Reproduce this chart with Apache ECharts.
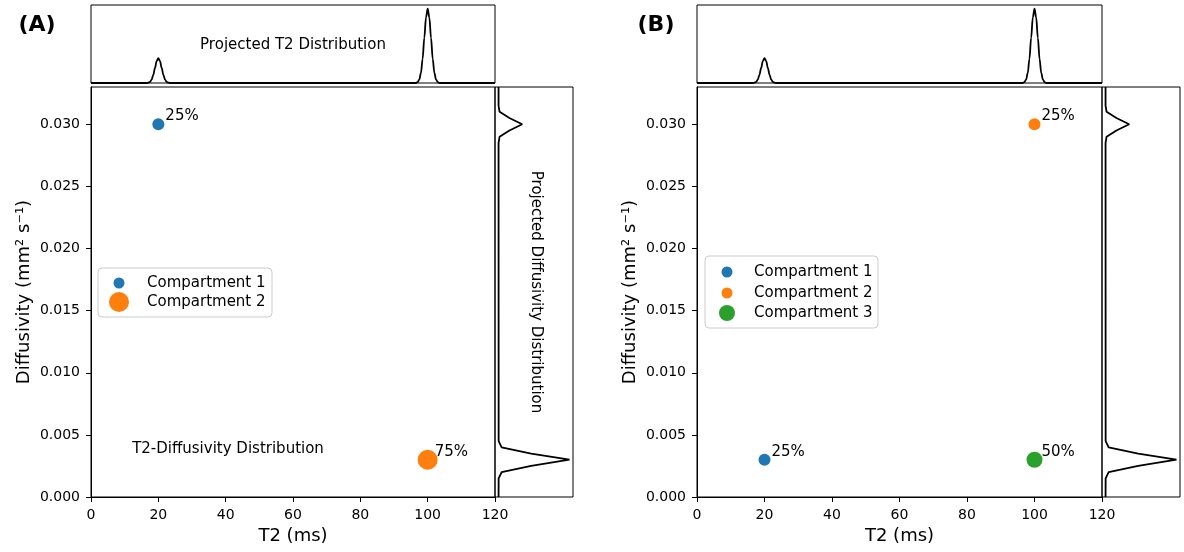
<!DOCTYPE html>
<html><head><meta charset="utf-8">
<script src="https://cdn.jsdelivr.net/npm/echarts@6/dist/echarts.min.js"></script>
<style>html,body{margin:0;padding:0;background:#fff;font-family:"DejaVu Sans"}#c{width:1184px;height:552px}</style>
</head><body><div id="c"></div>
<script>
// ---- data ----
const compartmentNames = ['Compartment 1', 'Compartment 2', 'Compartment 3'];
const panelAPoints = [[20, 0.030], [100, 0.003]];
const panelALabels = ['25%', '75%'];
const panelBPoints = [[20, 0.003], [100, 0.030], [100, 0.003]];
const panelBLabels = ['25%', '25%', '50%'];
const t2Ticks = [0, 20, 40, 60, 80, 100, 120];
const diffTicks = [0, 0.005, 0.010, 0.015, 0.020, 0.025, 0.030];
// projected T2 distribution (fraction vs T2 in ms)
const t2Grid = [0, 16.5, 17, 17.5, 18, 18.5, 19, 19.5, 20, 20.5, 21, 21.5, 22, 22.5, 23, 23.5,
                96.5, 97, 97.5, 98, 98.5, 99, 99.5, 100, 100.5, 101, 101.5, 102, 102.5, 103, 103.5, 120];
const t2Projection = [0, 0, 0.003, 0.011, 0.034, 0.081, 0.152, 0.221, 0.25, 0.221, 0.152, 0.081, 0.034, 0.011, 0.003, 0,
                      0, 0.008, 0.033, 0.101, 0.244, 0.455, 0.662, 0.75, 0.662, 0.455, 0.244, 0.101, 0.033, 0.008, 0, 0];
// projected diffusivity distribution (fraction vs diffusivity)
const diffGrid = [0, 0.0015, 0.002, 0.0025, 0.003, 0.0035, 0.004, 0.0045,
                  0.0285, 0.029, 0.0295, 0.030, 0.0305, 0.031, 0.0315, 0.033];
const diffProjection = [0, 0.001, 0.033, 0.345, 0.75, 0.345, 0.033, 0.001,
                        0, 0.011, 0.115, 0.25, 0.115, 0.011, 0, 0];

// ---- styles ----
const FONT = '"DejaVu Sans", sans-serif';
const colors = ['#1f77b4', '#ff7f0e', '#2ca02c'];
const layout = [
  { main: {left: 91, top: 87, width: 404, height: 410}, top: {left: 91, top: 5, width: 404, height: 78}, right: {left: 495, top: 87, width: 78, height: 410},
    sizes: [12, 20], legendCX: 119, legendCY: [281, 302], legendSizes: [11, 20], textX: 147,
    box: {x: 98, y: 268, width: 174, height: 49} },
  { main: {left: 697, top: 87, width: 405, height: 410}, top: {left: 697, top: 5, width: 405, height: 78}, right: {left: 1102, top: 87, width: 78, height: 410},
    sizes: [12, 12, 16], legendCX: 727, legendCY: [270, 291, 313], legendSizes: [11, 11, 16], textX: 754,
    box: {x: 705, y: 256, width: 173, height: 72} }
];
const panelPoints = [panelAPoints, panelBPoints];
const panelLabels = [panelALabels, panelBLabels];

function buildOption() {
  const grid = [], xAxis = [], yAxis = [], series = [], legend = [], graphic = [];
  const frame = {show: true, borderColor: '#000', borderWidth: 1, backgroundColor: 'transparent'};

  layout.forEach((p, pi) => {
    const g0 = grid.length;
    grid.push(Object.assign({}, frame, p.main));
    grid.push(Object.assign({}, frame, p.top));
    grid.push(Object.assign({}, frame, p.right));
    xAxis.push({
      gridIndex: g0, type: 'value', min: t2Ticks[0], max: t2Ticks[t2Ticks.length - 1], interval: 20,
      axisLine: {show: true, lineStyle: {color: '#000', width: 1}},
      axisTick: {show: true, inside: false, length: 5, lineStyle: {color: '#000'}},
      axisLabel: {color: '#000', fontSize: 14, fontFamily: FONT, margin: 11},
      splitLine: {show: false},
      name: 'T2 (ms)', nameLocation: 'middle', nameGap: 30,
      nameTextStyle: {color: '#000', fontSize: 18, fontFamily: FONT}
    });
    yAxis.push({
      gridIndex: g0, type: 'value', min: 0, max: 0.033,
      axisLine: {show: true, lineStyle: {color: '#000', width: 1}},
      axisTick: {show: true, inside: false, length: 5, customValues: diffTicks, lineStyle: {color: '#000'}},
      axisLabel: {color: '#000', fontSize: 14, fontFamily: FONT, margin: 11, customValues: diffTicks,
                  formatter: v => Number(v).toFixed(3)},
      splitLine: {show: false},
      name: 'Diffusivity (mm² s⁻¹)', nameLocation: 'middle', nameGap: 58, nameRotate: 90,
      nameTextStyle: {color: '#000', fontSize: 18, fontFamily: FONT}
    });
    xAxis.push({gridIndex: g0 + 1, type: 'value', min: 0, max: 120, show: false});
    yAxis.push({gridIndex: g0 + 1, type: 'value', min: 0, max: 0.7875, show: false});
    xAxis.push({gridIndex: g0 + 2, type: 'value', min: -0.0375, max: 0.7875, show: false});
    yAxis.push({gridIndex: g0 + 2, type: 'value', min: 0, max: 0.033, show: false});

    panelPoints[pi].forEach((pt, i) => {
      series.push({
        type: 'scatter', name: compartmentNames[i], xAxisIndex: g0, yAxisIndex: g0,
        symbol: 'circle', symbolSize: p.sizes[i], z: 3,
        itemStyle: {color: colors[i], opacity: 1},
        label: {show: true, position: 'inside', align: 'left', verticalAlign: 'middle', offset: [7, -8],
                formatter: () => panelLabels[pi][i], color: '#000', fontSize: 15, fontFamily: FONT},
        emphasis: {disabled: true},
        data: [pt]
      });
    });
    series.push({
      type: 'line', xAxisIndex: g0 + 1, yAxisIndex: g0 + 1, showSymbol: false, smooth: 0.35, smoothMonotone: 'x',
      lineStyle: {color: '#000', width: 1.8}, emphasis: {disabled: true}, silent: true,
      data: t2Grid.map((t, i) => [t, t2Projection[i]])
    });
    series.push({
      type: 'line', xAxisIndex: g0 + 2, yAxisIndex: g0 + 2, showSymbol: false, smooth: false,
      lineStyle: {color: '#000', width: 1.8}, emphasis: {disabled: true}, silent: true,
      data: diffGrid.map((d, i) => [diffProjection[i], d])
    });

    graphic.push({type: 'rect', z: 10, shape: Object.assign({r: 4}, p.box),
                  style: {fill: 'rgba(255,255,255,0.8)', stroke: '#cccccc', lineWidth: 1}});
    panelPoints[pi].forEach((pt, i) => {
      const d = p.legendSizes[i];
      legend.push({
        data: [{name: compartmentNames[i], icon: 'circle'}], orient: 'vertical', selectedMode: false,
        left: p.legendCX - d / 2, top: p.legendCY[i] - d / 2, padding: 0, itemWidth: d, itemHeight: d, z: 20,
        textStyle: {color: '#000', fontSize: 15, fontFamily: FONT,
                    padding: [0, 0, 0, p.textX - (p.legendCX + d / 2 + 5)]}
      });
    });
  });

  const tf = (size, bold) => (bold ? 'bold ' : '') + size + 'px "DejaVu Sans", sans-serif';
  graphic.push(
    {type: 'text', x: 37, y: 25, style: {text: '(A)', font: tf(22, true), fill: '#000', align: 'center', verticalAlign: 'middle'}},
    {type: 'text', x: 656, y: 25, style: {text: '(B)', font: tf(22, true), fill: '#000', align: 'center', verticalAlign: 'middle'}},
    {type: 'text', x: 293, y: 45, style: {text: 'Projected T2 Distribution', font: tf(15), fill: '#000', align: 'center', verticalAlign: 'middle'}},
    {type: 'text', x: 536, y: 292, rotation: -Math.PI / 2, style: {text: 'Projected Diffusivity Distribution', font: tf(15), fill: '#000', align: 'center', verticalAlign: 'middle'}},
    {type: 'text', x: 228, y: 449, style: {text: 'T2-Diffusivity Distribution', font: tf(15), fill: '#000', align: 'center', verticalAlign: 'middle'}}
  );

  return {animation: false, backgroundColor: '#fff', textStyle: {fontFamily: FONT},
          grid, xAxis, yAxis, series, legend, graphic};
}

const chart = echarts.init(document.getElementById('c'), null, {renderer: 'canvas'});
chart.setOption(buildOption());
if (document.fonts && document.fonts.load) {
  Promise.all([
    document.fonts.load('14px "DejaVu Sans"'),
    document.fonts.load('bold 22px "DejaVu Sans"')
  ]).then(() => { chart.clear(); chart.setOption(buildOption()); }).catch(() => {});
}
</script></body></html>
